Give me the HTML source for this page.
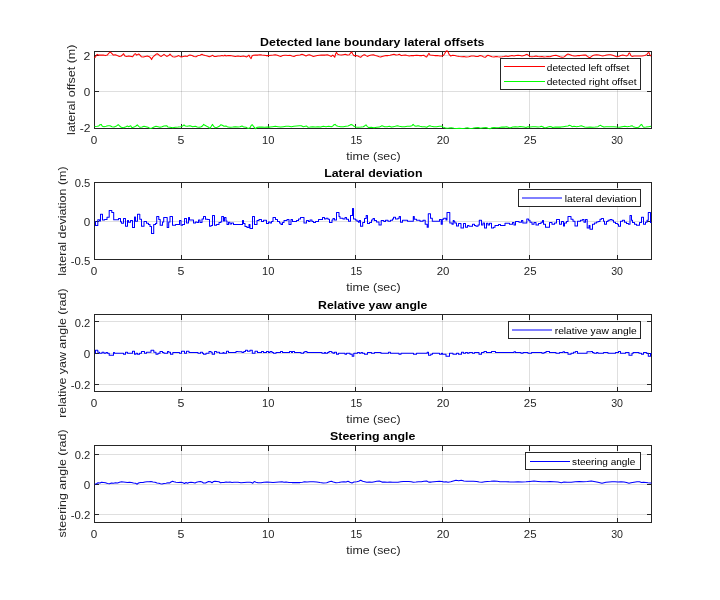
<!DOCTYPE html>
<html lang="en"><head><meta charset="utf-8"><title>Lane following results</title>
<style>html,body{margin:0;padding:0;background:#fff}body{width:720px;height:600px;overflow:hidden}svg{display:block}text{font-family:"Liberation Sans",sans-serif;fill:#262626}.tk{font-size:10.67px}.lb{font-size:11.73px}.tt{font-size:11.73px;font-weight:bold;fill:#000}.lg{font-size:9.6px;fill:#000}.ax{stroke:#262626;stroke-width:1;fill:none;shape-rendering:crispEdges}.gr{stroke:#262626;stroke-opacity:.15;stroke-width:1;shape-rendering:crispEdges}.d{fill:none;stroke-width:1.05;stroke-linejoin:round}</style></head><body>
<svg width="720" height="600" viewBox="0 0 720 600">
<rect width="720" height="600" fill="#fff"/>
<g id="axes1">
<line class="gr" x1="181.5" y1="51.5" x2="181.5" y2="128.5"/>
<line class="gr" x1="268.5" y1="51.5" x2="268.5" y2="128.5"/>
<line class="gr" x1="355.5" y1="51.5" x2="355.5" y2="128.5"/>
<line class="gr" x1="442.5" y1="51.5" x2="442.5" y2="128.5"/>
<line class="gr" x1="529.5" y1="51.5" x2="529.5" y2="128.5"/>
<line class="gr" x1="617.5" y1="51.5" x2="617.5" y2="128.5"/>
<line class="gr" x1="94.5" y1="55.5" x2="651.5" y2="55.5"/>
<line class="gr" x1="94.5" y1="91.5" x2="651.5" y2="91.5"/>
<rect class="ax" x="94.5" y="51.5" width="557.0" height="77.0"/>
<line class="ax" x1="181.5" y1="128.5" x2="181.5" y2="123.5"/>
<line class="ax" x1="181.5" y1="51.5" x2="181.5" y2="56.5"/>
<line class="ax" x1="268.5" y1="128.5" x2="268.5" y2="123.5"/>
<line class="ax" x1="268.5" y1="51.5" x2="268.5" y2="56.5"/>
<line class="ax" x1="355.5" y1="128.5" x2="355.5" y2="123.5"/>
<line class="ax" x1="355.5" y1="51.5" x2="355.5" y2="56.5"/>
<line class="ax" x1="442.5" y1="128.5" x2="442.5" y2="123.5"/>
<line class="ax" x1="442.5" y1="51.5" x2="442.5" y2="56.5"/>
<line class="ax" x1="529.5" y1="128.5" x2="529.5" y2="123.5"/>
<line class="ax" x1="529.5" y1="51.5" x2="529.5" y2="56.5"/>
<line class="ax" x1="617.5" y1="128.5" x2="617.5" y2="123.5"/>
<line class="ax" x1="617.5" y1="51.5" x2="617.5" y2="56.5"/>
<line class="ax" x1="94.5" y1="55.5" x2="99.4" y2="55.5"/>
<line class="ax" x1="651.5" y1="55.5" x2="646.6" y2="55.5"/>
<line class="ax" x1="94.5" y1="91.5" x2="99.4" y2="91.5"/>
<line class="ax" x1="651.5" y1="91.5" x2="646.6" y2="91.5"/>
<path class="d" stroke="#f00" d="M94.6 57.8L95.8 56.3L96.6 55.0L97.3 54.4L98.4 55.1L100.7 55.1L103.3 55.1L105.3 55.6L107.3 55.1L108.7 53.3L110.0 52.0L111.3 52.9L113.3 55.1L115.3 54.7L117.3 55.6L119.3 56.4L121.3 56.0L122.7 54.7L123.6 53.7L124.9 56.0L126.7 56.4L128.7 56.0L131.3 56.4L132.7 56.7L134.0 54.7L135.3 53.7L136.7 55.1L138.7 54.0L140.0 55.1L141.3 56.7L143.3 56.9L145.3 56.4L147.3 56.0L149.3 56.7L150.7 58.0L151.6 59.6L152.7 57.3L154.0 56.0L156.0 54.3L157.3 53.7L158.7 54.7L160.0 56.0L161.3 56.4L162.7 55.3L164.0 54.3L165.3 55.3L166.7 56.4L168.7 55.6L170.0 54.0L171.3 55.6L172.7 56.7L174.7 56.9L176.7 56.4L178.7 55.6L180.0 56.4L181.3 56.9L183.3 56.4L185.3 56.0L187.3 56.4L188.7 55.3L190.0 55.1L192.0 55.6L194.0 56.4L196.0 56.7L198.0 55.6L200.0 55.3L202.0 54.3L203.3 55.1L205.3 55.6L207.3 56.0L209.3 56.7L211.3 56.0L212.7 55.3L214.0 56.4L216.0 56.4L218.0 56.0L220.0 56.0L222.0 55.6L224.0 56.0L224.9 55.1L226.0 56.0L228.0 55.6L230.0 55.6L232.7 56.0L235.3 56.4L238.0 56.1L240.7 56.4L243.3 56.0L245.3 56.4L246.7 56.9L248.0 56.0L248.9 55.1L250.0 57.3L251.1 58.7L252.0 56.0L253.3 55.3L255.3 55.1L258.0 55.1L260.0 54.7L262.0 55.1L264.0 55.3L266.0 55.6L268.7 55.6L271.3 55.3L273.3 55.1L275.3 54.7L277.3 55.3L279.3 56.0L280.7 56.4L282.7 55.6L284.7 55.3L286.0 55.3L288.0 55.6L290.0 55.3L292.0 56.0L294.0 56.4L296.0 55.6L298.0 55.3L300.0 55.1L302.0 54.3L304.0 55.1L306.0 56.0L308.0 55.1L309.3 54.7L311.3 55.6L313.3 56.4L315.3 56.0L317.3 55.6L319.3 55.3L321.3 55.1L323.3 55.1L325.3 55.1L327.3 54.7L329.3 55.6L331.3 56.4L332.7 55.1L333.7 56.0L334.7 57.3L335.6 54.0L336.4 52.4L337.7 54.3L339.3 54.7L341.3 55.1L343.3 54.7L345.3 54.3L347.3 55.1L349.3 54.7L350.7 52.9L351.7 52.0L352.7 54.0L354.0 55.6L356.0 55.6L358.0 56.0L359.3 56.7L360.7 57.3L362.0 56.0L363.3 55.1L364.7 54.7L366.0 55.6L367.3 56.4L369.3 55.6L371.3 55.1L373.3 54.7L375.3 55.6L377.3 56.0L379.3 56.7L380.7 56.9L382.0 56.4L384.0 56.0L386.0 55.6L388.0 55.6L390.0 55.3L392.0 54.7L394.0 54.3L396.0 55.1L398.0 54.7L399.3 54.3L401.3 55.6L403.3 55.3L405.3 55.1L407.3 55.6L409.3 56.0L411.3 55.6L414.0 55.6L416.7 55.3L419.3 55.6L422.0 55.6L424.0 55.3L425.3 56.4L426.7 56.9L428.0 54.7L428.9 53.3L430.0 55.1L432.0 55.3L434.7 55.6L437.3 55.6L440.0 56.0L442.0 56.0L443.6 55.3L444.9 53.3L446.0 51.3L447.1 50.7L448.1 52.0L449.3 54.7L450.7 56.0L452.7 55.3L454.7 55.6L456.7 56.0L459.3 56.4L462.0 56.7L464.0 56.4L466.0 56.9L468.7 56.7L471.3 56.0L474.0 56.0L476.0 56.4L478.0 56.4L480.0 55.6L482.0 56.0L483.6 56.9L485.3 57.3L486.7 56.0L488.0 55.3L490.0 56.0L492.0 56.7L494.0 56.9L496.0 56.4L498.0 56.7L500.0 56.9L502.0 56.7L504.0 56.4L506.0 56.0L508.0 56.4L510.0 56.0L512.0 55.6L514.0 56.0L516.0 55.6L518.0 55.3L520.0 55.6L522.0 56.0L524.0 55.6L525.7 54.7L527.1 54.3L528.4 55.3L530.0 56.4L532.0 56.7L534.0 56.4L536.0 56.0L538.0 56.4L540.0 56.7L542.0 56.4L544.0 56.9L546.0 56.7L548.0 56.4L550.0 56.7L552.0 56.0L554.0 55.6L556.0 55.3L558.0 56.0L560.0 56.7L562.0 57.3L564.0 56.9L565.3 56.0L566.7 54.7L568.0 54.0L570.0 54.7L572.0 55.6L574.0 56.0L576.0 56.0L578.0 55.6L580.0 55.6L582.0 55.3L584.0 55.1L586.0 55.1L587.3 56.4L588.7 57.3L590.0 57.7L591.3 56.7L592.7 55.6L594.7 55.1L596.7 54.7L598.7 55.1L600.7 55.6L602.7 56.0L604.7 55.6L606.7 55.1L608.7 54.7L610.7 54.7L612.7 55.3L614.7 56.0L616.7 56.7L618.7 56.4L620.7 55.6L622.7 55.1L624.7 55.6L626.7 56.0L628.0 55.1L628.9 53.3L629.7 52.9L630.7 55.3L632.0 56.4L634.0 56.0L636.7 56.0L639.3 56.0L642.0 56.0L644.7 55.6L646.7 54.7L648.0 52.9L648.9 52.4L650.0 55.3L651.1 56.0"/>
<path class="d" stroke="#0f0" d="M94.6 126.4L97.0 126.3L98.6 126.1L100.0 124.7L101.3 124.4L102.3 126.3L104.0 126.7L106.0 126.3L108.0 125.7L110.0 125.7L112.0 126.7L114.0 127.1L116.0 126.3L117.3 125.3L118.4 124.7L119.6 126.0L121.3 127.3L123.3 127.7L125.3 127.1L127.3 126.0L128.7 126.7L130.7 125.7L132.0 127.7L134.0 127.1L136.0 126.0L137.3 124.9L138.7 126.3L140.0 127.3L142.0 127.1L144.0 126.3L146.0 126.7L148.0 127.3L150.0 128.4L152.0 128.0L154.0 127.1L156.0 126.3L158.0 126.7L160.0 127.3L162.0 126.7L164.0 126.0L166.7 125.7L168.0 127.1L170.0 127.3L172.7 127.7L175.3 127.3L178.0 127.1L180.7 126.7L182.7 126.0L184.0 124.9L185.3 126.0L187.3 126.3L190.0 125.7L192.7 126.7L195.3 126.3L197.3 127.1L199.3 127.3L201.3 126.7L202.7 125.7L203.7 124.4L204.9 125.3L206.7 126.3L208.7 127.3L210.0 128.4L211.3 126.3L212.4 124.4L213.7 126.3L215.3 127.7L217.3 127.3L219.3 126.3L220.9 124.7L222.3 125.3L224.0 126.3L226.0 126.0L228.0 127.1L230.0 127.3L232.7 127.1L235.3 126.7L238.0 127.1L240.0 126.7L242.0 126.0L244.0 127.1L246.0 127.3L248.0 128.4L250.0 127.7L251.3 125.3L252.4 124.7L253.7 126.7L255.3 128.7L257.3 127.3L259.3 127.1L262.0 127.1L264.7 127.3L267.3 127.1L270.0 127.1L272.7 126.7L275.3 126.3L278.0 126.7L280.7 127.1L283.3 126.7L286.0 126.3L288.7 126.3L291.3 126.7L294.0 126.3L296.7 126.0L299.3 125.7L301.3 125.7L303.3 126.7L305.3 126.3L306.7 126.0L308.0 127.3L310.0 127.1L312.7 126.7L315.3 127.1L318.0 126.7L320.7 127.1L323.3 126.3L326.0 126.7L328.7 126.3L331.3 126.7L332.9 126.0L334.0 124.7L335.1 124.4L336.4 125.7L338.0 126.3L340.7 126.7L343.3 126.7L346.0 126.3L348.0 126.0L349.7 125.3L351.1 124.4L352.4 124.9L354.0 126.3L356.0 127.1L358.0 127.3L360.7 127.1L363.3 126.7L364.9 125.7L366.0 124.9L367.1 126.3L368.7 127.6L371.3 127.3L374.0 127.7L376.7 127.3L379.3 127.1L380.9 126.3L382.0 125.7L384.7 126.7L387.3 126.7L389.3 126.3L391.3 127.1L393.3 126.7L395.3 126.3L397.3 125.7L399.3 126.3L402.0 126.7L404.7 126.7L407.3 126.3L410.0 126.3L412.0 125.7L413.1 124.4L414.3 125.7L416.0 126.3L418.0 125.7L420.0 126.3L422.0 126.7L424.7 126.7L426.7 127.3L428.4 126.3L429.7 125.7L431.3 126.3L434.0 126.7L436.7 126.7L439.3 126.3L442.0 126.3L443.3 127.1L444.7 127.8L446.7 128.2L448.7 128.1L451.3 127.8L454.0 128.2L456.7 128.4L459.3 128.2L462.0 128.4L464.7 128.2L467.3 127.8L470.0 128.4L472.7 128.2L475.3 127.8L478.0 127.5L480.7 128.2L483.3 127.8L486.0 127.5L488.0 128.2L490.0 128.8L492.0 127.8L494.0 127.5L496.7 127.8L499.3 127.5L502.0 127.1L504.7 127.1L506.7 126.7L508.7 127.5L510.7 127.8L512.7 127.1L515.3 126.7L518.0 127.1L520.0 126.5L522.0 126.7L524.0 127.1L526.0 127.5L528.0 126.7L530.0 127.1L532.7 126.7L535.3 126.7L538.0 127.1L540.0 126.7L541.3 126.2L542.7 126.7L544.0 127.5L546.0 127.8L548.0 127.1L550.0 126.5L551.3 126.7L552.7 127.5L555.3 127.1L558.0 127.1L560.7 127.1L563.3 126.7L566.0 126.3L568.0 126.0L569.3 125.3L570.7 125.7L572.0 126.7L574.0 126.3L576.7 126.7L579.3 126.3L581.3 125.7L582.7 126.3L584.7 127.1L587.3 127.3L590.0 127.1L592.7 127.3L595.3 127.1L598.0 126.7L599.3 125.7L600.7 125.3L602.0 126.3L604.0 127.1L606.0 126.7L608.7 126.7L611.3 126.7L614.0 126.7L616.7 127.1L619.3 127.3L622.0 126.7L624.7 126.3L627.3 126.7L630.0 126.3L632.0 125.7L633.3 126.7L635.3 127.3L637.3 127.7L639.3 126.7L640.7 124.9L641.7 124.4L642.7 126.3L644.0 127.3L646.0 127.1L648.7 126.7L651.1 126.3"/>
<text class="tk" x="90.84" y="143.85" textLength="6.50" lengthAdjust="spacingAndGlyphs">0</text>
<text class="tk" x="177.60" y="143.85" textLength="6.91" lengthAdjust="spacingAndGlyphs">5</text>
<text class="tk" x="262.05" y="143.85" textLength="12.37" lengthAdjust="spacingAndGlyphs">10</text>
<text class="tk" x="350.39" y="143.85" textLength="11.85" lengthAdjust="spacingAndGlyphs">15</text>
<text class="tk" x="436.73" y="143.85" textLength="12.71" lengthAdjust="spacingAndGlyphs">20</text>
<text class="tk" x="523.83" y="143.85" textLength="12.69" lengthAdjust="spacingAndGlyphs">25</text>
<text class="tk" x="611.20" y="143.85" textLength="11.81" lengthAdjust="spacingAndGlyphs">30</text>
<text class="tk" x="83.59" y="59.85" textLength="6.83" lengthAdjust="spacingAndGlyphs">2</text>
<text class="tk" x="83.74" y="95.85" textLength="6.50" lengthAdjust="spacingAndGlyphs">0</text>
<text class="tk" x="79.67" y="131.95" textLength="10.74" lengthAdjust="spacingAndGlyphs">-2</text>
<text class="tt" x="260.13" y="45.60" textLength="224.37" lengthAdjust="spacingAndGlyphs">Detected lane boundary lateral offsets</text>
<text class="lb" x="346.26" y="159.60" textLength="54.30" lengthAdjust="spacingAndGlyphs">time (sec)</text>
<text class="lb" x="75.00" y="134.89" textLength="90.37" lengthAdjust="spacingAndGlyphs" transform="rotate(-90 75.00 134.89)">lateral offset (m)</text>
</g>
<g id="axes2">
<line class="gr" x1="181.5" y1="182.5" x2="181.5" y2="259.5"/>
<line class="gr" x1="268.5" y1="182.5" x2="268.5" y2="259.5"/>
<line class="gr" x1="355.5" y1="182.5" x2="355.5" y2="259.5"/>
<line class="gr" x1="442.5" y1="182.5" x2="442.5" y2="259.5"/>
<line class="gr" x1="529.5" y1="182.5" x2="529.5" y2="259.5"/>
<line class="gr" x1="617.5" y1="182.5" x2="617.5" y2="259.5"/>
<line class="gr" x1="94.5" y1="221.5" x2="651.5" y2="221.5"/>
<rect class="ax" x="94.5" y="182.5" width="557.0" height="77.0"/>
<line class="ax" x1="181.5" y1="259.5" x2="181.5" y2="254.5"/>
<line class="ax" x1="181.5" y1="182.5" x2="181.5" y2="187.5"/>
<line class="ax" x1="268.5" y1="259.5" x2="268.5" y2="254.5"/>
<line class="ax" x1="268.5" y1="182.5" x2="268.5" y2="187.5"/>
<line class="ax" x1="355.5" y1="259.5" x2="355.5" y2="254.5"/>
<line class="ax" x1="355.5" y1="182.5" x2="355.5" y2="187.5"/>
<line class="ax" x1="442.5" y1="259.5" x2="442.5" y2="254.5"/>
<line class="ax" x1="442.5" y1="182.5" x2="442.5" y2="187.5"/>
<line class="ax" x1="529.5" y1="259.5" x2="529.5" y2="254.5"/>
<line class="ax" x1="529.5" y1="182.5" x2="529.5" y2="187.5"/>
<line class="ax" x1="617.5" y1="259.5" x2="617.5" y2="254.5"/>
<line class="ax" x1="617.5" y1="182.5" x2="617.5" y2="187.5"/>
<line class="ax" x1="94.5" y1="221.5" x2="99.4" y2="221.5"/>
<line class="ax" x1="651.5" y1="221.5" x2="646.6" y2="221.5"/>
<path class="d" stroke="#00f" d="M94.8 221.5H95.5V225.5H97.8V219.7H99.5V221.0H100.5V214.3H102.5V220.0H104.5V219.5H107.0V217.2H109.2V210.5H111.8V212.5H113.7V219.8H118.5V218.5H120.5V221.8H121.5V223.3H123.5V218.5H125.5V226.2H127.5V220.5H128.5V222.2H130.5V220.5H132.5V227.5H134.5V217.0H135.5V221.2H137.5V214.3H139.8V219.3H141.5V226.2H144.0V221.5H146.5V223.3H148.5V224.5H150.0V226.5H151.5V233.5H153.7V224.5H155.5V223.5H156.7V216.5H158.8V219.5H160.2V225.2H162.5V222.0H163.7V217.5H166.0H167.2V227.5H168.7V222.0H170.0V216.5H172.5V225.2H175.5V224.5H179.5V220.5H181.0V225.2H182.5V224.5H184.5V218.5H186.5V223.0H188.5V217.5H189.5V220.0H193.5V223.0H195.5V222.0H197.0V222.5H198.5V220.0H200.0V222.5H202.0V219.0H203.5V216.5H205.5V219.2H207.5V219.5H209.5V226.2H211.0V225.5H212.5V215.5H214.5V225.2H216.5V224.5H219.0V222.5H220.5V222.0H221.7V216.5H223.5V221.0H224.5V217.5H226.0V221.0H227.0V224.5H228.5V222.2H230.0V224.0H231.5V223.0H233.5V224.5H238.0H242.5V220.5H243.5V223.5H245.0V226.5H247.0V227.5H249.0V224.5H250.0V228.5H252.5V216.5H254.5V224.5H257.0V220.5H259.0V219.5H261.5V221.5H263.5V220.2H266.5V223.5H268.5V222.0H270.0V223.0H271.5V221.5H273.0V217.5H275.5V219.5H277.5V221.5H279.5V223.0H281.0V224.5H282.5V222.5H284.0V220.5H287.0V219.5H289.0V224.5H291.0V219.5H292.5V221.5H296.5V220.5H298.5V219.0H300.5V217.5H304.0V223.0H306.5V220.5H308.5V221.5H310.0V220.0H312.0V221.5H313.5V222.5H315.5V221.5H318.5V219.5H322.5V217.5H324.5V219.0H326.0V218.3H328.0V219.3H329.5V222.5H332.0V220.0H333.0V218.5H334.5V220.0H336.5V212.5H339.0V216.5H340.0V218.3H343.0V219.0H345.0V217.5H346.5V219.3H348.5V221.2H350.5V215.5H352.5V208.5H353.5V219.0H355.5V220.0H357.0V221.2H358.5V222.2H359.3V220.5H360.5V226.2H362.7V222.5H364.5V218.5H366.2V215.5H367.5V223.5H369.5V222.5H371.5V220.0H373.0V218.5H374.5V220.5H376.5V222.0H379.0V225.0H381.2V220.5H382.0H383.8V221.5H385.5V220.3H388.0V221.3H390.5V220.3H392.5V219.0H393.5V217.3H395.5V219.0H398.0V218.3H399.2V216.5H400.5V222.2H402.5V220.3H407.5V221.3H413.3V216.5H414.3V219.3H416.5V220.3H420.0V221.2H423.0V220.3H425.2V224.3H427.2V227.3H428.3V213.7H430.5V218.3H432.3V221.2H439.5V219.5H441.2V224.3H442.3V219.3H443.7V218.3H446.0V220.0H447.0V212.5H449.8V223.0H452.0V224.3H453.2V220.5H454.0V221.2H454.8V223.0H456.5V226.0H458.5V223.5H461.0V228.0H463.5V223.5H465.5V227.2H467.5V225.5H469.0V226.2H472.5V224.3H474.5V225.5H476.0V226.2H478.0V225.0H479.3V220.3H481.5V225.0H483.0V223.0H484.5V228.0H486.5V223.3H488.0V225.0H489.5V223.3H491.5V228.0H493.5V227.2H495.0V225.5H498.5V224.5H500.5V225.5H505.0V223.3H509.5V224.3H512.5V222.5H514.0V225.0H515.5V221.5H519.0V222.2H521.5V220.5H522.8V223.0H526.0H526.8V219.0H528.5V220.3H530.0V222.2H532.0V224.3H534.0V222.5H536.0V225.0H538.5V223.5H541.0V222.2H542.5V220.5H543.5V224.3H545.5V227.2H549.5V222.5H552.0V224.3H554.5V223.0H556.5V219.5H559.5V224.3H561.5V221.5H563.5V226.0H564.5V223.0H566.5V221.5H568.0V216.5H571.0V219.3H573.0V221.2H575.0V226.0H577.5V221.2H580.5V220.3H582.5V219.5H584.0V222.2H585.5V219.5H587.2V228.0H589.0V225.5H590.0V229.2H592.5V224.3H594.5V223.0H596.5V222.0H598.0V221.5H600.0V219.3H601.5V218.5H603.5V221.2H604.5V224.3H606.5V221.5H608.0V220.3H610.0V219.5H612.0V220.3H613.5V222.2H615.5V223.5H617.5V224.3H618.5V226.2H620.5V221.2H622.5V220.3H624.5V222.2H626.5V223.5H628.5V224.3H630.0V215.5H631.5V220.3H632.5V222.5H634.5V224.3H636.5V225.2H639.5V222.5H641.5V217.2H643.5V224.3H645.5V222.2H647.0V220.3H648.3V212.5H650.5V222.5H651.5"/>
<text class="tk" x="90.84" y="274.85" textLength="6.50" lengthAdjust="spacingAndGlyphs">0</text>
<text class="tk" x="177.60" y="274.85" textLength="6.91" lengthAdjust="spacingAndGlyphs">5</text>
<text class="tk" x="262.05" y="274.85" textLength="12.37" lengthAdjust="spacingAndGlyphs">10</text>
<text class="tk" x="350.39" y="274.85" textLength="11.85" lengthAdjust="spacingAndGlyphs">15</text>
<text class="tk" x="436.73" y="274.85" textLength="12.71" lengthAdjust="spacingAndGlyphs">20</text>
<text class="tk" x="523.83" y="274.85" textLength="12.69" lengthAdjust="spacingAndGlyphs">25</text>
<text class="tk" x="611.20" y="274.85" textLength="11.81" lengthAdjust="spacingAndGlyphs">30</text>
<text class="tk" x="74.66" y="186.85" textLength="15.60" lengthAdjust="spacingAndGlyphs">0.5</text>
<text class="tk" x="83.74" y="225.85" textLength="6.50" lengthAdjust="spacingAndGlyphs">0</text>
<text class="tk" x="70.70" y="264.85" textLength="19.57" lengthAdjust="spacingAndGlyphs">-0.5</text>
<text class="tt" x="324.18" y="176.60" textLength="98.28" lengthAdjust="spacingAndGlyphs">Lateral deviation</text>
<text class="lb" x="346.26" y="290.60" textLength="54.30" lengthAdjust="spacingAndGlyphs">time (sec)</text>
<text class="lb" x="66.00" y="275.83" textLength="109.41" lengthAdjust="spacingAndGlyphs" transform="rotate(-90 66.00 275.83)">lateral deviation (m)</text>
</g>
<g id="axes3">
<line class="gr" x1="181.5" y1="314.5" x2="181.5" y2="391.5"/>
<line class="gr" x1="268.5" y1="314.5" x2="268.5" y2="391.5"/>
<line class="gr" x1="355.5" y1="314.5" x2="355.5" y2="391.5"/>
<line class="gr" x1="442.5" y1="314.5" x2="442.5" y2="391.5"/>
<line class="gr" x1="529.5" y1="314.5" x2="529.5" y2="391.5"/>
<line class="gr" x1="617.5" y1="314.5" x2="617.5" y2="391.5"/>
<line class="gr" x1="94.5" y1="321.5" x2="651.5" y2="321.5"/>
<line class="gr" x1="94.5" y1="353.5" x2="651.5" y2="353.5"/>
<line class="gr" x1="94.5" y1="384.5" x2="651.5" y2="384.5"/>
<rect class="ax" x="94.5" y="314.5" width="557.0" height="77.0"/>
<line class="ax" x1="181.5" y1="391.5" x2="181.5" y2="386.5"/>
<line class="ax" x1="181.5" y1="314.5" x2="181.5" y2="319.5"/>
<line class="ax" x1="268.5" y1="391.5" x2="268.5" y2="386.5"/>
<line class="ax" x1="268.5" y1="314.5" x2="268.5" y2="319.5"/>
<line class="ax" x1="355.5" y1="391.5" x2="355.5" y2="386.5"/>
<line class="ax" x1="355.5" y1="314.5" x2="355.5" y2="319.5"/>
<line class="ax" x1="442.5" y1="391.5" x2="442.5" y2="386.5"/>
<line class="ax" x1="442.5" y1="314.5" x2="442.5" y2="319.5"/>
<line class="ax" x1="529.5" y1="391.5" x2="529.5" y2="386.5"/>
<line class="ax" x1="529.5" y1="314.5" x2="529.5" y2="319.5"/>
<line class="ax" x1="617.5" y1="391.5" x2="617.5" y2="386.5"/>
<line class="ax" x1="617.5" y1="314.5" x2="617.5" y2="319.5"/>
<line class="ax" x1="94.5" y1="321.5" x2="99.4" y2="321.5"/>
<line class="ax" x1="651.5" y1="321.5" x2="646.6" y2="321.5"/>
<line class="ax" x1="94.5" y1="353.5" x2="99.4" y2="353.5"/>
<line class="ax" x1="651.5" y1="353.5" x2="646.6" y2="353.5"/>
<line class="ax" x1="94.5" y1="384.5" x2="99.4" y2="384.5"/>
<line class="ax" x1="651.5" y1="384.5" x2="646.6" y2="384.5"/>
<path class="d" stroke="#00f" d="M94.8 353.0H95.5V350.3H97.8V352.3H99.5V353.3H102.0V352.3H104.0V353.3H106.0V352.5H107.5V353.3H109.2V355.3H113.5V352.5H114.5V353.3H123.5V354.3H125.5V352.3H127.5V353.3H132.5V351.3H134.5V354.3H136.0V353.3H137.5V354.3H139.5V353.3H141.5V351.5H144.5V353.3H146.5V352.3H151.0V350.3H153.8V352.3H156.0V354.3H158.0V353.3H160.0V351.5H162.5V352.5H164.0V353.3H166.0H167.5V351.5H168.8V352.3H170.5V354.3H172.8V352.5H179.5V353.3H181.5V351.3H184.5V353.3H186.5V351.3H189.0V352.5H198.0V353.3H200.5V352.3H202.5V353.3H203.5V354.3H206.0V353.3H209.0V351.5H211.0V352.3H212.2V354.3H214.5V351.5H216.5V352.3H219.5V353.3H223.0V352.5H224.0V353.3H226.5V351.3H228.5V352.5H236.0V351.5H238.0V351.7H242.0V352.5H243.8V351.5H245.5V350.3H247.5V351.3H250.0V350.3H252.3V353.3H255.0V351.3H257.5V352.5H261.5V351.5H263.5V352.5H266.5V351.5H268.5V352.5H270.0V351.5H272.0V352.5H273.5V353.3H276.0V352.5H280.5V351.5H282.5V352.5H289.5V351.5H291.5V352.5H292.5V351.5H294.5V352.5H301.0V353.3H303.5V352.3H304.8V351.5H307.0V352.5H310.0H322.0V353.3H324.5V352.5H325.5V353.3H327.5V352.5H329.0V351.5H331.5V352.3H333.0V353.3H334.5V352.3H336.5V354.3H338.5V353.3H345.0V354.3H346.5V353.3H350.0V354.3H352.2V356.3H353.8V353.3H357.5V352.5H359.5V353.3H361.0V352.5H362.5V353.3H364.5V354.3H367.5V352.5H371.5V353.3H374.5V352.5H381.0V353.3H382.0H388.5V352.3H390.5V353.3H399.0V354.3H401.0V353.3H413.5V354.3H416.5V353.3H427.2V352.3H428.5V355.3H430.8V354.3H432.5V353.3H439.5V354.3H441.5V353.3H442.5V354.3H446.0V356.3H449.5V353.3H453.0V354.3H454.0H456.5V353.3H458.5V354.3H461.5V352.3H463.5V353.3H465.5V352.5H467.5V353.3H469.0V352.5H472.5V353.3H474.5V352.5H479.0V354.3H481.5V352.5H484.0V351.5H486.5V352.5H491.5V351.5H495.5V352.5H514.0V351.7H515.5V352.5H521.0V353.3H523.0V352.5H526.0H528.0V353.3H531.5V352.5H542.0V353.3H544.0V352.5H546.0V351.5H549.5V352.5H556.0V353.3H559.5V352.5H563.0V351.7H564.5V352.5H568.0V354.3H571.0V353.3H573.5V352.3H575.5V351.5H577.5V353.3H587.0V351.7H591.0V351.5H592.5V352.5H594.0V353.3H596.5V352.5H598.0V353.3H603.5V352.5H608.0V353.3H615.5V352.5H618.5V351.5H620.5V353.3H625.5V352.5H629.0V355.3H632.0V353.3H633.2V352.5H639.0V353.3H641.5V354.3H643.5V352.5H646.5V353.3H648.3V356.3H650.5V353.5H651.5"/>
<text class="tk" x="90.84" y="406.85" textLength="6.50" lengthAdjust="spacingAndGlyphs">0</text>
<text class="tk" x="177.60" y="406.85" textLength="6.91" lengthAdjust="spacingAndGlyphs">5</text>
<text class="tk" x="262.05" y="406.85" textLength="12.37" lengthAdjust="spacingAndGlyphs">10</text>
<text class="tk" x="350.39" y="406.85" textLength="11.85" lengthAdjust="spacingAndGlyphs">15</text>
<text class="tk" x="436.73" y="406.85" textLength="12.71" lengthAdjust="spacingAndGlyphs">20</text>
<text class="tk" x="523.83" y="406.85" textLength="12.69" lengthAdjust="spacingAndGlyphs">25</text>
<text class="tk" x="611.20" y="406.85" textLength="11.81" lengthAdjust="spacingAndGlyphs">30</text>
<text class="tk" x="74.76" y="326.85" textLength="15.60" lengthAdjust="spacingAndGlyphs">0.2</text>
<text class="tk" x="83.74" y="357.85" textLength="6.50" lengthAdjust="spacingAndGlyphs">0</text>
<text class="tk" x="70.70" y="388.85" textLength="19.68" lengthAdjust="spacingAndGlyphs">-0.2</text>
<text class="tt" x="318.14" y="308.60" textLength="109.18" lengthAdjust="spacingAndGlyphs">Relative yaw angle</text>
<text class="lb" x="346.26" y="422.60" textLength="54.30" lengthAdjust="spacingAndGlyphs">time (sec)</text>
<text class="lb" x="66.00" y="417.82" textLength="129.39" lengthAdjust="spacingAndGlyphs" transform="rotate(-90 66.00 417.82)">relative yaw angle (rad)</text>
</g>
<g id="axes4">
<line class="gr" x1="181.5" y1="445.5" x2="181.5" y2="522.5"/>
<line class="gr" x1="268.5" y1="445.5" x2="268.5" y2="522.5"/>
<line class="gr" x1="355.5" y1="445.5" x2="355.5" y2="522.5"/>
<line class="gr" x1="442.5" y1="445.5" x2="442.5" y2="522.5"/>
<line class="gr" x1="529.5" y1="445.5" x2="529.5" y2="522.5"/>
<line class="gr" x1="617.5" y1="445.5" x2="617.5" y2="522.5"/>
<line class="gr" x1="94.5" y1="454.5" x2="651.5" y2="454.5"/>
<line class="gr" x1="94.5" y1="484.5" x2="651.5" y2="484.5"/>
<line class="gr" x1="94.5" y1="514.5" x2="651.5" y2="514.5"/>
<rect class="ax" x="94.5" y="445.5" width="557.0" height="77.0"/>
<line class="ax" x1="181.5" y1="522.5" x2="181.5" y2="517.5"/>
<line class="ax" x1="181.5" y1="445.5" x2="181.5" y2="450.5"/>
<line class="ax" x1="268.5" y1="522.5" x2="268.5" y2="517.5"/>
<line class="ax" x1="268.5" y1="445.5" x2="268.5" y2="450.5"/>
<line class="ax" x1="355.5" y1="522.5" x2="355.5" y2="517.5"/>
<line class="ax" x1="355.5" y1="445.5" x2="355.5" y2="450.5"/>
<line class="ax" x1="442.5" y1="522.5" x2="442.5" y2="517.5"/>
<line class="ax" x1="442.5" y1="445.5" x2="442.5" y2="450.5"/>
<line class="ax" x1="529.5" y1="522.5" x2="529.5" y2="517.5"/>
<line class="ax" x1="529.5" y1="445.5" x2="529.5" y2="450.5"/>
<line class="ax" x1="617.5" y1="522.5" x2="617.5" y2="517.5"/>
<line class="ax" x1="617.5" y1="445.5" x2="617.5" y2="450.5"/>
<line class="ax" x1="94.5" y1="454.5" x2="99.4" y2="454.5"/>
<line class="ax" x1="651.5" y1="454.5" x2="646.6" y2="454.5"/>
<line class="ax" x1="94.5" y1="484.5" x2="99.4" y2="484.5"/>
<line class="ax" x1="651.5" y1="484.5" x2="646.6" y2="484.5"/>
<line class="ax" x1="94.5" y1="514.5" x2="99.4" y2="514.5"/>
<line class="ax" x1="651.5" y1="514.5" x2="646.6" y2="514.5"/>
<path class="d" stroke="#00f" d="M94.8 484.2L96.5 483.8L98.0 482.8L100.0 483.0L101.5 482.2L103.5 482.5L105.5 482.8L107.5 483.5L109.5 483.8L111.5 483.0L113.5 483.3L115.5 482.8L117.5 483.0L119.5 482.2L121.5 481.8L123.5 482.0L125.5 482.2L127.5 482.5L129.5 482.2L131.5 482.5L133.5 483.0L135.5 483.3L137.2 484.2L138.5 483.0L140.5 482.5L143.0 482.5L145.0 482.0L147.0 481.8L149.0 481.8L151.0 481.5L153.0 482.0L155.0 482.2L157.0 483.0L159.0 483.3L160.5 483.8L162.0 484.0L164.0 483.5L166.0 483.2L168.0 482.8L169.5 483.0L171.0 482.0L172.5 481.2L174.0 481.8L176.0 482.2L178.5 482.5L181.0 482.2L183.0 482.8L184.5 483.5L186.0 482.5L187.5 483.3L189.0 482.5L191.0 482.2L193.0 482.5L195.0 483.0L196.5 482.2L198.5 481.8L200.5 481.5L202.0 482.0L203.5 483.0L205.5 483.0L207.0 482.2L208.5 481.5L210.5 481.8L212.0 482.8L213.5 481.5L215.0 481.2L217.0 481.5L219.0 481.8L220.5 482.8L222.0 482.5L224.0 482.5L226.0 482.0L228.0 482.3L230.0 482.0L232.0 482.5L234.0 482.3L238.0 482.3L241.0 482.8L244.0 482.5L247.0 482.2L250.0 482.2L251.5 482.5L252.8 483.3L254.2 481.5L256.0 482.2L258.0 482.8L261.0 482.8L264.0 482.3L267.0 482.0L270.0 482.3L273.0 482.6L276.0 482.3L279.0 482.0L282.0 481.8L284.0 482.3L286.0 482.0L289.0 482.5L292.0 482.6L296.0 482.6L300.0 482.6L302.5 482.2L304.5 481.8L307.0 482.0L310.0 481.8L313.3 481.7L316.7 482.1L320.0 482.6L323.3 483.0L326.7 482.7L329.3 481.7L331.3 481.3L333.3 482.1L336.0 482.7L338.7 482.6L341.3 482.1L344.0 481.7L346.0 482.1L348.0 481.3L350.0 482.3L352.0 483.0L354.0 482.1L356.7 481.7L358.7 481.3L360.7 480.3L362.7 481.3L364.7 481.7L366.7 482.3L369.3 482.1L372.0 482.3L374.7 481.7L376.7 481.3L379.3 481.0L382.0 482.1L384.7 482.1L387.3 482.3L390.0 482.1L392.7 482.3L395.3 482.3L398.0 482.3L400.7 481.7L403.3 481.4L406.0 481.4L408.7 481.4L411.3 481.7L413.3 482.3L416.0 482.1L418.7 481.7L421.3 481.7L424.0 481.3L426.7 481.0L428.7 482.1L431.3 482.1L434.0 481.7L436.7 481.4L439.3 481.3L442.0 481.4L444.0 482.1L446.0 481.7L448.0 482.3L450.7 481.7L453.3 481.0L456.0 480.3L458.7 480.7L461.3 480.3L464.0 481.0L466.7 481.3L470.0 481.3L473.3 481.3L476.7 481.4L479.3 482.1L482.0 482.3L484.7 481.7L487.3 481.4L490.7 481.3L494.0 481.0L497.3 481.3L500.0 481.7L502.0 481.7L506.0 481.7L510.0 481.9L514.0 482.1L518.0 481.8L522.0 482.1L526.0 481.8L530.0 481.4L534.0 481.0L538.0 481.4L542.0 481.8L546.0 481.7L550.0 481.4L554.0 481.7L558.0 482.1L561.3 482.7L564.0 482.1L567.3 482.3L571.3 482.3L575.3 481.8L579.3 481.4L583.3 481.7L587.3 481.4L591.3 481.0L595.3 481.7L598.0 482.3L600.0 482.8L602.0 483.3L604.0 482.8L606.0 482.3L609.0 482.0L612.0 481.8L615.0 481.8L618.0 482.0L621.0 481.8L624.0 482.0L626.5 482.5L629.0 483.3L631.0 482.8L634.0 482.2L637.0 481.8L639.5 481.8L641.5 482.5L643.5 482.2L646.0 482.5L648.0 482.8L650.0 483.0L651.5 483.0"/>
<text class="tk" x="90.84" y="537.85" textLength="6.50" lengthAdjust="spacingAndGlyphs">0</text>
<text class="tk" x="177.60" y="537.85" textLength="6.91" lengthAdjust="spacingAndGlyphs">5</text>
<text class="tk" x="262.05" y="537.85" textLength="12.37" lengthAdjust="spacingAndGlyphs">10</text>
<text class="tk" x="350.39" y="537.85" textLength="11.85" lengthAdjust="spacingAndGlyphs">15</text>
<text class="tk" x="436.73" y="537.85" textLength="12.71" lengthAdjust="spacingAndGlyphs">20</text>
<text class="tk" x="523.83" y="537.85" textLength="12.69" lengthAdjust="spacingAndGlyphs">25</text>
<text class="tk" x="611.20" y="537.85" textLength="11.81" lengthAdjust="spacingAndGlyphs">30</text>
<text class="tk" x="74.76" y="458.85" textLength="15.60" lengthAdjust="spacingAndGlyphs">0.2</text>
<text class="tk" x="83.74" y="488.85" textLength="6.50" lengthAdjust="spacingAndGlyphs">0</text>
<text class="tk" x="70.70" y="518.85" textLength="19.68" lengthAdjust="spacingAndGlyphs">-0.2</text>
<text class="tt" x="330.05" y="439.60" textLength="85.36" lengthAdjust="spacingAndGlyphs">Steering angle</text>
<text class="lb" x="346.26" y="553.60" textLength="54.30" lengthAdjust="spacingAndGlyphs">time (sec)</text>
<text class="lb" x="66.00" y="537.39" textLength="107.96" lengthAdjust="spacingAndGlyphs" transform="rotate(-90 66.00 537.39)">steering angle (rad)</text>
</g>
<g><rect class="ax" x="500.5" y="58.5" width="140.0" height="31.0" style="fill:#fff"/>
<line x1="504" y1="66.5" x2="544.7" y2="66.5" stroke="#f00" stroke-width="1" shape-rendering="crispEdges"/>
<text class="lg" x="546.78" y="70.70" textLength="82.49" lengthAdjust="spacingAndGlyphs">detected left offset</text>
<line x1="504" y1="81.5" x2="544.7" y2="81.5" stroke="#0f0" stroke-width="1" shape-rendering="crispEdges"/>
<text class="lg" x="546.67" y="84.50" textLength="89.90" lengthAdjust="spacingAndGlyphs">detected right offset</text>
</g>
<g><rect class="ax" x="518.5" y="189.5" width="122.0" height="17.0" style="fill:#fff"/>
<line x1="522" y1="198.0" x2="562" y2="198.0" stroke="#00f" stroke-width="1"/>
<text class="lg" x="564.81" y="201.90" textLength="72.05" lengthAdjust="spacingAndGlyphs">lateral deviation</text>
</g>
<g><rect class="ax" x="508.5" y="321.5" width="132.0" height="17.0" style="fill:#fff"/>
<line x1="512" y1="330.0" x2="552" y2="330.0" stroke="#00f" stroke-width="1"/>
<text class="lg" x="554.72" y="334.20" textLength="82.03" lengthAdjust="spacingAndGlyphs">relative yaw angle</text>
</g>
<g><rect class="ax" x="525.5" y="452.5" width="115.0" height="17.0" style="fill:#fff"/>
<line x1="529.5" y1="461.5" x2="569.5" y2="461.5" stroke="#00f" stroke-width="1" shape-rendering="crispEdges"/>
<text class="lg" x="572.13" y="464.75" textLength="63.12" lengthAdjust="spacingAndGlyphs">steering angle</text>
</g>
</svg></body></html>
